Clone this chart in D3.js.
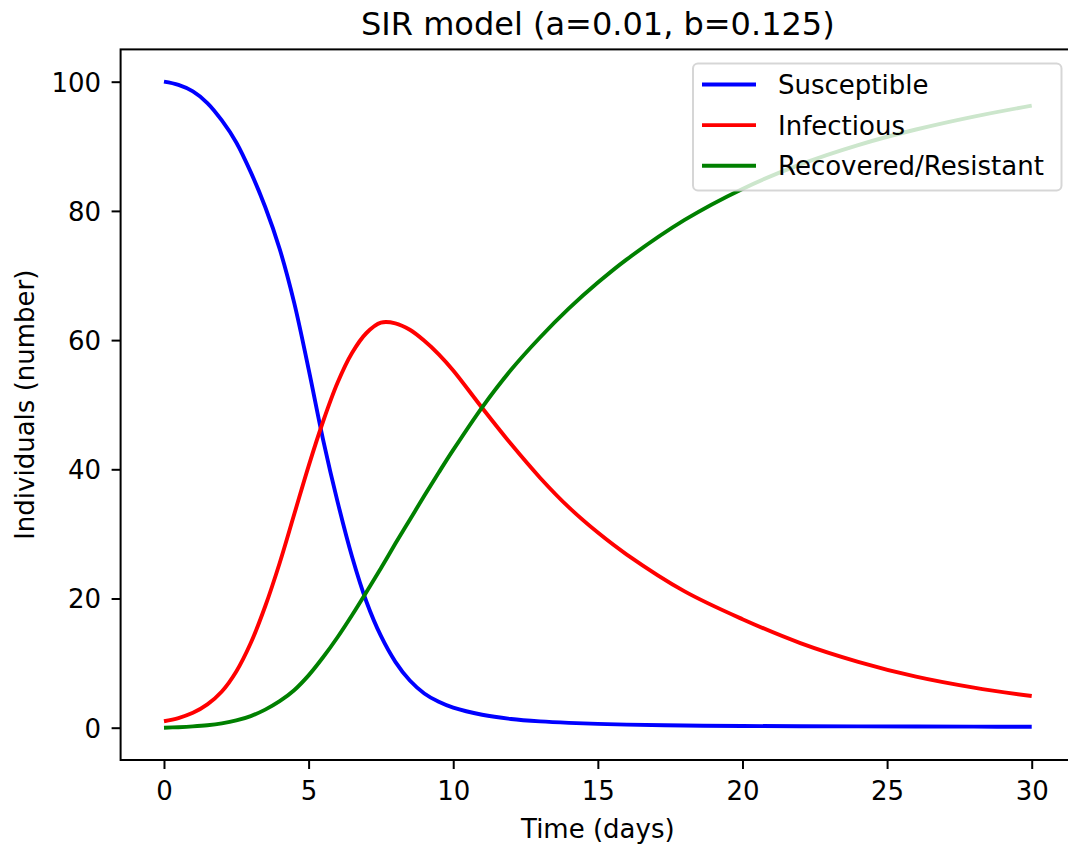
<!DOCTYPE html>
<html>
<head>
<meta charset="utf-8">
<script src="https://d3js.org/d3.v7.min.js"></script>
<style>
  body { margin: 0; background: white; }
  text { font-family: "DejaVu Sans", sans-serif; fill: black; }
</style>
</head>
<body>
<svg id="chart" width="1068" height="847"></svg>
<script>
// values
var days = [0, 0.5, 1, 1.5, 2, 2.5, 3, 3.5, 4, 4.5, 5, 5.5, 6, 6.5, 7, 7.5, 8, 8.5, 9, 9.5, 10, 11, 12, 13, 14, 15, 16, 18, 20, 22, 24, 26, 28, 30];
var susceptible = [100, 99.5, 98.5, 96.7, 94, 90.6, 86, 80.6, 74.1, 65.8, 55.5, 44.6, 35, 26.5, 19.5, 14.2, 10.2, 7.3, 5.3, 4.0, 3.1, 2.0, 1.35, 0.98, 0.75, 0.6, 0.48, 0.34, 0.27, 0.22, 0.2, 0.18, 0.16, 0.15];
var infectious = [1.0, 1.5, 2.3, 3.6, 5.6, 8.7, 13.1, 18.8, 25.5, 33, 40.5, 47.4, 53.4, 58, 61.1, 62.7, 62.6, 61.6, 59.9, 57.8, 55.3, 49.5, 43.9, 38.7, 34.1, 30.2, 26.8, 21.1, 16.8, 13.1, 10.2, 7.9, 6.2, 4.9];
var recovered = [0, 0.08, 0.2, 0.38, 0.67, 1.12, 1.8, 2.8, 4.1, 5.8, 8.1, 10.9, 14.0, 17.4, 21.0, 24.7, 28.5, 32.2, 35.9, 39.5, 43.0, 49.6, 55.4, 60.4, 64.9, 68.9, 72.5, 78.6, 83.4, 87.2, 90.2, 92.6, 94.6, 96.3];
var seriesNames = ["Susceptible", "Infectious", "Recovered/Resistant"];
var seriesColors = ["blue", "red", "green"];
var xTicks = [0, 5, 10, 15, 20, 25, 30];
var yTicks = [0, 20, 40, 60, 80, 100];

var svg = d3.select("#chart");
var plotLeft = 120.6, plotRight = 1075.1, plotTop = 49.4, plotBottom = 760;

var x = d3.scaleLinear().domain([-1.5, 31.5]).range([plotLeft, plotRight]);
var y = d3.scaleLinear().domain([-5, 105]).range([plotBottom, plotTop]);

var series = [susceptible, infectious, recovered];
var line = d3.line()
  .x(function(d) { return x(d[0]); })
  .y(function(d) { return y(d[1]); })
  .curve(d3.curveCatmullRom.alpha(0.5));

series.forEach(function(vals, i) {
  svg.append("path")
    .datum(days.map(function(t, j) { return [t, vals[j]]; }))
    .attr("d", line)
    .attr("fill", "none")
    .attr("stroke", seriesColors[i])
    .attr("stroke-width", 3.9)
    .attr("stroke-linejoin", "round");
});

// axes
var xAxis = svg.append("g")
  .attr("transform", "translate(0," + plotBottom + ")")
  .call(d3.axisBottom(x).tickValues(xTicks).tickSize(9).tickFormat(d3.format("d")));
xAxis.selectAll("text").attr("y", 40).attr("dy", null);

var yAxis = svg.append("g")
  .attr("transform", "translate(" + plotLeft + ",0)")
  .call(d3.axisLeft(y).tickValues(yTicks).tickSize(9).tickPadding(10.5).tickFormat(d3.format("d")));
yAxis.selectAll("text").attr("dy", "0.36em");

[xAxis, yAxis].forEach(function(g) {
  g.select(".domain").remove();
  g.selectAll("line").attr("stroke", "black").attr("stroke-width", 2);
  g.selectAll("text").style("font-size", "26px").style("font-family", "DejaVu Sans").attr("fill", "black");
});

// frame
svg.append("rect")
  .attr("x", plotLeft).attr("y", plotTop)
  .attr("width", plotRight - plotLeft).attr("height", plotBottom - plotTop)
  .attr("fill", "none").attr("stroke", "black").attr("stroke-width", 2);

// titles
svg.append("text")
  .attr("x", (plotLeft + plotRight) / 2).attr("y", 35)
  .attr("text-anchor", "middle")
  .style("font-size", "32px")
  .text("SIR model (a=0.01, b=0.125)");

svg.append("text")
  .attr("x", (plotLeft + plotRight) / 2).attr("y", 838)
  .attr("text-anchor", "middle")
  .style("font-size", "26px")
  .text("Time (days)");

svg.append("text")
  .attr("transform", "translate(34," + (plotTop + plotBottom) / 2 + ") rotate(-90)")
  .attr("text-anchor", "middle")
  .style("font-size", "26px")
  .text("Individuals (number)");

// legend
var legend = svg.append("g");
legend.append("rect")
  .attr("x", 693).attr("y", 63.5)
  .attr("width", 368.5).attr("height", 127)
  .attr("rx", 5).attr("ry", 5)
  .attr("fill", "white").attr("fill-opacity", 0.8)
  .attr("stroke", "#cccccc").attr("stroke-opacity", 0.8).attr("stroke-width", 2);

seriesNames.forEach(function(name, i) {
  var cy = 84.5 + i * 40.6;
  legend.append("line")
    .attr("x1", 702).attr("x2", 756)
    .attr("y1", cy).attr("y2", cy)
    .attr("stroke", seriesColors[i]).attr("stroke-width", 3.9);
  legend.append("text")
    .attr("x", 778).attr("y", cy + 9.5)
    .style("font-size", "26px")
    .text(name);
});
</script>
</body>
</html>
